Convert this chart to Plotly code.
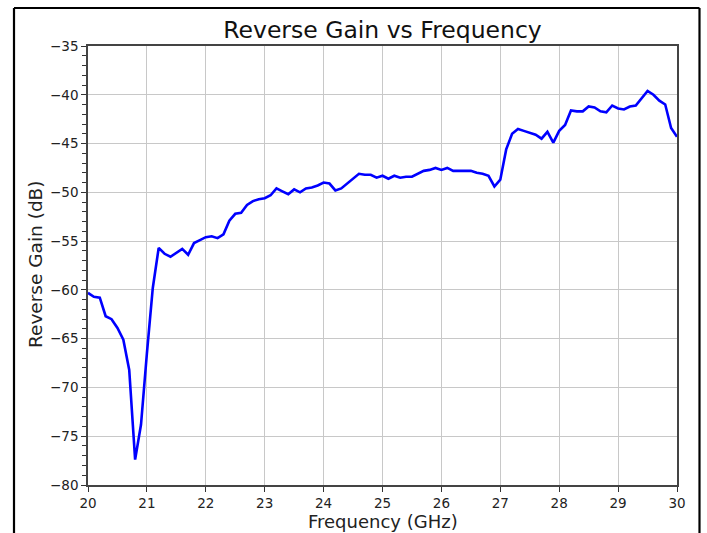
import plotly.graph_objects as go

freq_ghz = [round(20.0 + 0.1 * i, 1) for i in range(101)]
reverse_gain_db = [
    -60.3, -60.7, -60.8, -62.7, -63.0, -63.9, -65.1, -68.2, -77.4, -73.8,
    -66.5, -59.8, -55.7, -56.3, -56.6, -56.2, -55.8, -56.4, -55.2, -54.9,
    -54.6, -54.5, -54.7, -54.3, -52.9, -52.2, -52.1, -51.3, -50.9, -50.7,
    -50.6, -50.3, -49.6, -49.9, -50.2, -49.7, -50.0, -49.6, -49.5, -49.3,
    -49.0, -49.1, -49.8, -49.6, -49.1, -48.6, -48.1, -48.2, -48.2, -48.5,
    -48.3, -48.6, -48.3, -48.5, -48.4, -48.4, -48.1, -47.8, -47.7, -47.5,
    -47.7, -47.5, -47.8, -47.8, -47.8, -47.8, -48.0, -48.1, -48.3, -49.4,
    -48.7, -45.6, -44.0, -43.5, -43.7, -43.9, -44.1, -44.5, -43.8, -44.9,
    -43.7, -43.1, -41.6, -41.7, -41.7, -41.2, -41.3, -41.7, -41.8, -41.1,
    -41.4, -41.5, -41.2, -41.1, -40.3, -39.6, -40.0, -40.6, -41.0, -43.4,
    -44.3,
]
x_ticks = [20, 21, 22, 23, 24, 25, 26, 27, 28, 29, 30]
y_ticks = [-80, -75, -70, -65, -60, -55, -50, -45, -40, -35]

title_text = "Reverse Gain vs Frequency"
x_title = "Frequency (GHz)"
y_title = "Reverse Gain (dB)"

FONT = "DejaVu Sans"
W, H = 707, 533
L, R, T, B = 88, 30, 46, 48
pw = W - L - R
ph = H - T - B

fig = go.Figure()
fig.add_trace(go.Scatter(
    x=freq_ghz, y=reverse_gain_db, mode="lines",
    line=dict(color="#0000ff", width=2.6),
    showlegend=False,
))

axis_common = dict(
    showgrid=True, gridcolor="#c8c8c8", gridwidth=1,
    showline=True, linecolor="#444444", linewidth=1.5, mirror=True,
    ticks="outside", ticklen=5, tickwidth=1.2, tickcolor="#333333",
    tickfont=dict(family=FONT, size=13.5, color="#222222"),
    zeroline=False, automargin=False,
)

# outer frame lines (pixel positions converted to paper coords)
fx0, fx1 = (14 - L) / pw, (699.5 - L) / pw
fy_top, fy_bot = (ph + T - 8) / ph, -0.2
frame = [
    dict(type="line", xref="paper", yref="paper", x0=fx0, x1=fx0, y0=fy_bot, y1=fy_top),
    dict(type="line", xref="paper", yref="paper", x0=fx1, x1=fx1, y0=fy_bot, y1=fy_top),
    dict(type="line", xref="paper", yref="paper", x0=fx0, x1=fx1, y0=fy_top, y1=fy_top),
]
for s in frame:
    s["line"] = dict(color="black", width=2.2)

fig.update_layout(
    width=W, height=H,
    paper_bgcolor="white", plot_bgcolor="white",
    margin=dict(l=L, r=R, t=T, b=B, pad=0),
    font=dict(family=FONT, color="#222222"),
    title=dict(text=title_text, x=0.5, xref="paper", xanchor="center",
               y=1 - 30 / H, yanchor="middle", yref="container",
               font=dict(family=FONT, size=23.5, color="#111111")),
    xaxis=dict(range=[20, 30], tickvals=x_ticks, **axis_common),
    yaxis=dict(range=[-80, -35], tickvals=y_ticks,
               minor=dict(dtick=1, ticks="outside", ticklen=4, tickwidth=1.2,
                          tickcolor="#333333", showgrid=False),
               **axis_common),
    annotations=[
        dict(text=x_title, xref="paper", yref="paper", x=0.5,
             y=1 - (521 - T) / ph, xanchor="center", yanchor="middle",
             showarrow=False, font=dict(family=FONT, size=18, color="#222222")),
        dict(text=y_title, xref="paper", yref="paper", x=(35 - L) / pw,
             y=1 - (264 - T) / ph, xanchor="center", yanchor="middle",
             textangle=-90, showarrow=False,
             font=dict(family=FONT, size=18.5, color="#222222")),
    ],
    shapes=frame,
)

fig.write_html(
    "out.html",
    config={"displayModeBar": False},
    post_script="document.body.style.margin='0';document.body.style.overflow='hidden';",
)
